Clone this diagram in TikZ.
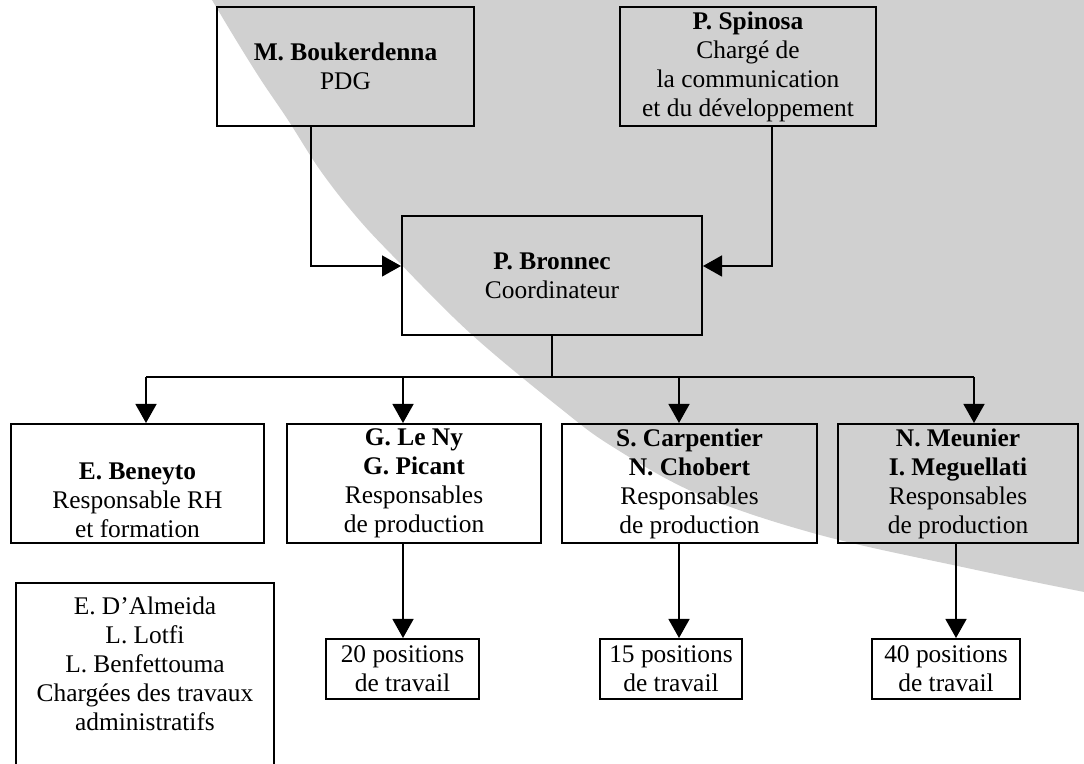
\documentclass[tikz,border=0pt]{standalone}
\usepackage{fontspec}
\setmainfont{Liberation Serif}
\usepackage{tikz}
\usetikzlibrary{arrows.meta, positioning}
\definecolor{bggray}{RGB}{208,208,208}

\begin{document}
\begin{tikzpicture}[x=0.5pt, y=-0.5pt, font=\fontsize{12.7}{14.5}\selectfont]
\tikzstyle{person} = [rectangle, minimum height=59.5pt, align=center, draw=black, line width=1pt, inner sep=2pt]
\tikzstyle{post} = [rectangle, minimum height=30pt, align=center, draw=black, line width=1pt, inner sep=1.5pt]
\tikzstyle{wire} = [line width=0.7pt]
\tikzstyle{arrow} = [line width=0.7pt, -{Triangle[width=10.5pt, length=9.5pt]}]

\useasboundingbox (0,0) rectangle (1084,764);

% grey disc behind the chart
\fill [bggray] plot [smooth, tension=0.6] coordinates {(206,-10) (212,0) (236,40) (261,80) (288,120) (320,170) (355,215) (392,255) (470,333) (560,408) (613,447) (700,495) (820,535) (967,568) (1084,592) (1100,595)} -- (1100,-10) -- cycle;

\node (pdg) [person, minimum width=128.5pt] at (345.5,66.5) {\textbf{M. Boukerdenna}\\PDG};
\node (spinosa) [person, minimum width=128pt] at (748,66.5) {\textbf{P. Spinosa}\\Chargé de\\la communication\\et du développement};
\node (bronnec) [person, minimum width=150pt] at (552,275.5) {\textbf{P. Bronnec}\\Coordinateur};

\node (beneyto) [person, minimum width=126.5pt] at (137.5,483.5) {\strut\\\textbf{E. Beneyto}\\Responsable RH\\et formation};
\node (leny) [person, minimum width=127pt] at (414,483.5) {\textbf{G. Le Ny}\\\textbf{G. Picant}\\Responsables\\de production};
\node (carpentier) [person, minimum width=127.5pt] at (689.5,483.5) {\textbf{S. Carpentier}\\\textbf{N. Chobert}\\Responsables\\de production};
\node (meunier) [person, minimum width=120pt] at (958,483.5) {\textbf{N. Meunier}\\\textbf{I. Meguellati}\\Responsables\\de production};

\node (admin) [person, minimum width=129pt, anchor=north, inner ysep=6.8pt] at (145,582) {E. D'Almeida\\L. Lotfi\\L. Benfettouma\\Chargées des travaux\\administratifs\\[30pt]\mbox{}};

\node (pos20) [post, minimum width=76.5pt] at (402.5,669) {20 positions\\de travail};
\node (pos15) [post, minimum width=71pt] at (671,669) {15 positions\\de travail};
\node (pos40) [post, minimum width=74pt] at (946,669) {40 positions\\de travail};

% connectors
\coordinate (t1) at (311,266);
\coordinate (t2) at (772,266);
\coordinate (bus) at (552,377);
\coordinate (d1) at (146,377);
\coordinate (d2) at (403,377);
\coordinate (d3) at (679,377);
\coordinate (d4) at (974,377);
\coordinate (q40) at (956,600);

\draw [arrow] (pdg.south -| t1) |- (bronnec.west |- t1);
\draw [arrow] (spinosa.south -| t2) |- (bronnec.east |- t2);
\draw [wire] (bronnec.south) -- (bus);
\draw [wire] (d1) -- (d4);
\foreach \d/\n in {d1/beneyto, d2/leny, d3/carpentier, d4/meunier}
  \draw [arrow] (\d) -- (\d |- \n.north);

\draw [arrow] (leny.south -| d2) -- (pos20.north -| d2);
\draw [arrow] (carpentier.south -| d3) -- (pos15.north -| d3);
\draw [arrow] (meunier.south -| q40) -- (pos40.north -| q40);
\end{tikzpicture}
\end{document}
